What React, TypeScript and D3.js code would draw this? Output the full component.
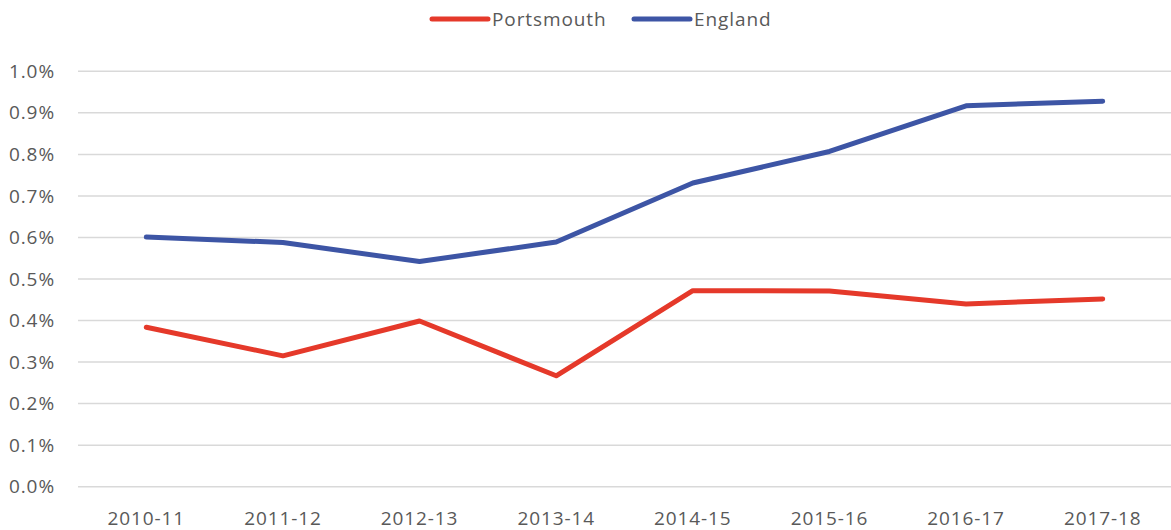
import React from "react";
import * as d3 from "d3";

const categories = ["2010-11", "2011-12", "2012-13", "2013-14", "2014-15", "2015-16", "2016-17", "2017-18"];
const portsmouth = [0.384, 0.315, 0.399, 0.267, 0.472, 0.471, 0.44, 0.452];
const england = [0.601, 0.588, 0.542, 0.589, 0.731, 0.807, 0.917, 0.928];
const yTicks = [0, 0.1, 0.2, 0.3, 0.4, 0.5, 0.6, 0.7, 0.8, 0.9, 1.0];
const seriesNames = ["Portsmouth", "England"];

const W = 1171;
const H = 530;
const FONT = "'Open Sans', 'Liberation Sans', sans-serif";
const TEXT = "#595959";
const COLORS = ["#E5392A", "#3D55A5"];
const FS = 19;
const LS = 0.9;

export default function App() {
  const x = d3.scaleBand<string>().domain(categories).range([78, 1171]);
  const y = d3.scaleLinear().domain([0, 1]).range([486.7, 71.3]);
  const line = d3
    .line<number>()
    .x((_, i) => (x(categories[i]) as number) + x.bandwidth() / 2)
    .y((d) => y(d));
  const series = [portsmouth, england];

  return (
    <svg width={W} height={H} style={{ position: "absolute", left: 0, top: 0 }} fontFamily={FONT}>
      <rect width={W} height={H} fill="#fff" />
      {yTicks.map((t) => (
        <g key={t}>
          <line x1={78} x2={1171} y1={y(t)} y2={y(t)} stroke="#d9d9d9" strokeWidth={1.5} />
          <text x={55} y={y(t)} dy="0.35em" textAnchor="end" fontSize={FS} letterSpacing={LS} fill={TEXT}>
            {d3.format(".1%")(t / 100)}
          </text>
        </g>
      ))}
      {categories.map((c) => (
        <text key={c} x={(x(c) as number) + x.bandwidth() / 2} y={525} textAnchor="middle" fontSize={FS} letterSpacing={LS} fill={TEXT}>
          {c}
        </text>
      ))}
      {series.map((s, i) => (
        <path key={i} d={line(s) || ""} fill="none" stroke={COLORS[i]} strokeWidth={5} strokeLinecap="round" strokeLinejoin="round" />
      ))}
      {seriesNames.map((n, i) => {
        const lx = [432, 634][i];
        return (
          <g key={n}>
            <line x1={lx} x2={lx + 56} y1={19} y2={19} stroke={COLORS[i]} strokeWidth={5} strokeLinecap="round" />
            <text x={lx + 60} y={19} dy="0.35em" fontSize={FS} letterSpacing={LS} fill={TEXT}>
              {n}
            </text>
          </g>
        );
      })}
    </svg>
  );
}
